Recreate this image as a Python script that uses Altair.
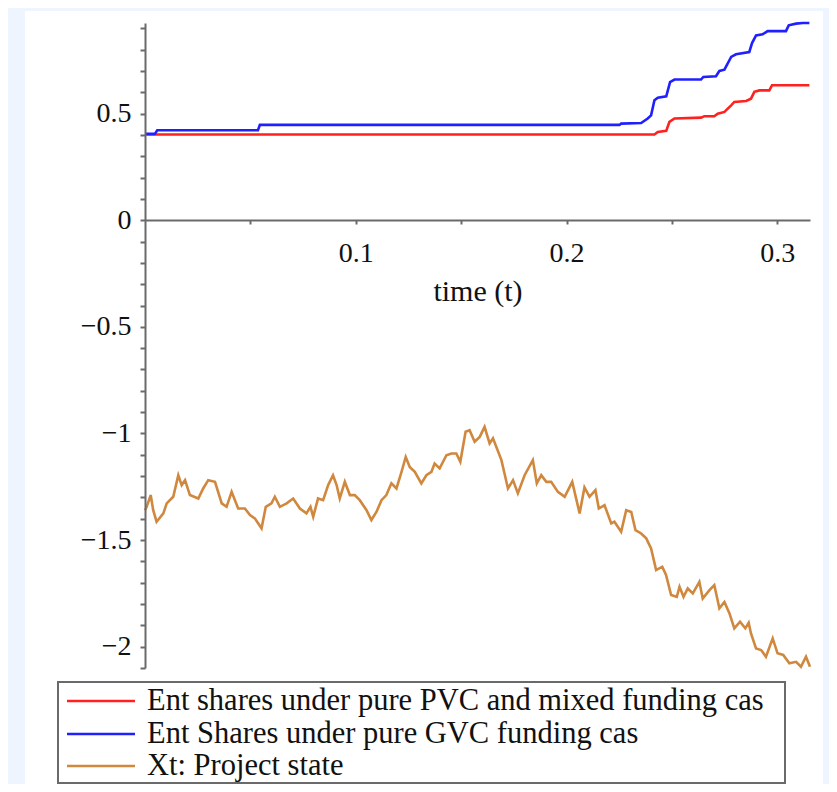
import altair as alt
import pandas as pd

# ---- data ----
xt_t = [0.0, 0.0008, 0.0027, 0.0039, 0.0055, 0.0087, 0.0103, 0.0134, 0.0158, 0.0174,
        0.0190, 0.0213, 0.0253, 0.0276, 0.0300, 0.0332, 0.0364, 0.0387, 0.0411, 0.0442,
        0.0474, 0.0498, 0.0521, 0.0553, 0.0573, 0.0600, 0.0616, 0.0640, 0.0672, 0.0703,
        0.0735, 0.0766, 0.0785, 0.0798, 0.0821, 0.0845, 0.0869, 0.0892, 0.0909, 0.0924,
        0.0948, 0.0972, 0.0995, 0.1019, 0.1051, 0.1074, 0.1098, 0.1122, 0.1145, 0.1169,
        0.1193, 0.1217, 0.1237, 0.1256, 0.1280, 0.1311, 0.1335, 0.1359, 0.1374, 0.1398,
        0.1430, 0.1454, 0.1477, 0.1496, 0.1521, 0.1540, 0.1564, 0.1588, 0.1611, 0.1635,
        0.1651, 0.1691, 0.1722, 0.1746, 0.1769, 0.1801, 0.1840, 0.1859, 0.1880, 0.1904,
        0.1927, 0.1959, 0.1991, 0.2027, 0.2062, 0.2085, 0.2109, 0.2137, 0.2153, 0.2180,
        0.2212, 0.2227, 0.2259, 0.2283, 0.2307, 0.2327, 0.2354, 0.2378, 0.2401, 0.2425,
        0.2454, 0.2472, 0.2496, 0.2523, 0.2536, 0.2555, 0.2575, 0.2599, 0.2630, 0.2646,
        0.2678, 0.2701, 0.2725, 0.2749, 0.2773, 0.2796, 0.2823, 0.2848, 0.2864, 0.2875,
        0.2899, 0.2923, 0.2946, 0.2978, 0.3001, 0.3028, 0.3057, 0.3089, 0.3112, 0.3136,
        0.3155]
xt_v = [-1.360, -1.344, -1.289, -1.360, -1.414, -1.375, -1.328, -1.297, -1.196, -1.242,
        -1.219, -1.289, -1.305, -1.258, -1.219, -1.227, -1.328, -1.344, -1.274, -1.352,
        -1.352, -1.383, -1.398, -1.445, -1.344, -1.328, -1.297, -1.344, -1.328, -1.305,
        -1.352, -1.375, -1.344, -1.391, -1.305, -1.313, -1.242, -1.196, -1.242, -1.305,
        -1.227, -1.289, -1.289, -1.313, -1.360, -1.406, -1.368, -1.313, -1.289, -1.234,
        -1.258, -1.180, -1.110, -1.157, -1.180, -1.234, -1.196, -1.180, -1.141, -1.164,
        -1.102, -1.094, -1.094, -1.133, -0.992, -0.985, -1.039, -1.016, -0.969, -1.047,
        -1.023, -1.125, -1.258, -1.219, -1.281, -1.196, -1.125, -1.234, -1.196, -1.227,
        -1.227, -1.274, -1.297, -1.227, -1.375, -1.253, -1.297, -1.266, -1.352, -1.336,
        -1.422, -1.414, -1.461, -1.360, -1.368, -1.453, -1.469, -1.492, -1.539, -1.641,
        -1.625, -1.664, -1.758, -1.766, -1.719, -1.766, -1.727, -1.750, -1.696, -1.774,
        -1.735, -1.711, -1.820, -1.790, -1.844, -1.914, -1.883, -1.914, -1.888, -1.938,
        -2.008, -2.016, -2.047, -1.961, -2.031, -2.039, -2.078, -2.071, -2.094, -2.047,
        -2.094]

red_t = [0.0, 0.2417, 0.2433, 0.2473, 0.2488, 0.2512, 0.2638, 0.2654, 0.2701, 0.2717,
         0.2749, 0.2781, 0.2796, 0.2852, 0.2875, 0.2891, 0.2915, 0.2962, 0.2975, 0.3152]
red_v = [0.402, 0.402, 0.414, 0.419, 0.461, 0.477, 0.481, 0.488, 0.488, 0.500,
         0.508, 0.539, 0.555, 0.559, 0.570, 0.602, 0.609, 0.609, 0.633, 0.633]

blue_t = [0.0, 0.0047, 0.0058, 0.0536, 0.0545, 0.2251, 0.2259, 0.2354, 0.2385, 0.2401,
          0.2417, 0.2433, 0.2473, 0.2491, 0.2512, 0.2638, 0.2649, 0.2709, 0.2725, 0.2749,
          0.2781, 0.2804, 0.2867, 0.2880, 0.2899, 0.2930, 0.2954, 0.3041, 0.3054, 0.3089,
          0.3120, 0.3152]
blue_v = [0.405, 0.405, 0.422, 0.422, 0.447, 0.447, 0.453, 0.456, 0.477, 0.492,
          0.563, 0.575, 0.581, 0.648, 0.660, 0.660, 0.672, 0.675, 0.700, 0.706,
          0.766, 0.778, 0.789, 0.831, 0.867, 0.872, 0.887, 0.887, 0.914, 0.922,
          0.925, 0.925]

legend_labels = ["Ent shares under pure PVC and mixed funding case",
                 "Ent Shares under pure GVC funding case",
                 "Xt: Project state"]
series_colors = ["#ff2020", "#2020ff", "#d0883e"]

x_ticks = [0.05, 0.1, 0.15, 0.2, 0.25, 0.3]
y_ticks = [round(-2.1 + 0.1 * i, 1) for i in range(31)]

FONT = "Liberation Serif"
AXIS_COLOR = "#6a6a6a"

x_scale = alt.Scale(domain=[0, 0.3155], nice=False, zero=False)
y_scale = alt.Scale(domain=[-2.1, 0.925], nice=False, zero=False)

x_axis = alt.Axis(
    values=x_ticks,
    labelExpr="abs(datum.value*10 - round(datum.value*10)) < 0.001 ? format(datum.value, '~g') : ''",
    offset=-448, grid=False, zindex=1,
    domainColor=AXIS_COLOR, domainWidth=2, tickColor=AXIS_COLOR, tickWidth=2, tickSize=4,
    labelFont=FONT, labelFontSize=28, labelColor="#111111", labelPadding=15,
    labelFlush=False, labelOverlap=False,
    title="time (t)", titleFont=FONT, titleFontSize=30, titleFontWeight="normal",
    titleColor="#111111", titleBaseline="alphabetic", titleY=80,
)
y_axis = alt.Axis(
    values=y_ticks,
    labelExpr="abs(datum.value*2 - round(datum.value*2)) < 0.001 ? format(datum.value, '~g') : ''",
    grid=False, zindex=1,
    domainColor=AXIS_COLOR, domainWidth=2, tickColor=AXIS_COLOR, tickWidth=2, tickSize=5,
    labelFont=FONT, labelFontSize=28, labelColor="#111111", labelPadding=9,
    labelFlush=False, labelOverlap=False, title="",
)

def series_layer(ts, vs, color):
    df = pd.DataFrame({"t": ts, "v": vs})
    return alt.Chart(df).mark_line(color=color, strokeWidth=2.6, clip=False).encode(
        x=alt.X("t:Q", scale=x_scale, axis=x_axis),
        y=alt.Y("v:Q", scale=y_scale, axis=y_axis),
        order="t:Q",
    )

one = pd.DataFrame({"a": [0]})

panel = alt.Chart(one).mark_rect(fill="white").encode(
    x=alt.value(-120), x2=alt.value(678), y=alt.value(-12), y2=alt.value(800)
)

red = series_layer(red_t, red_v, series_colors[0])
blue = series_layer(blue_t, blue_v, series_colors[1])
xt = series_layer(xt_t, xt_v, series_colors[2])

legend_box = alt.Chart(one).mark_rect(fillOpacity=0, stroke="#6a6a6a", strokeWidth=2).encode(
    x=alt.value(-87), x2=alt.value(640), y=alt.value(659), y2=alt.value(760)
)

legend_rows = [678, 711, 743]
legend_limits = [624, 500, 700]
legend_layers = []
for i in range(3):
    legend_layers.append(
        alt.Chart(one).mark_rule(color=series_colors[i], strokeWidth=2.5).encode(
            x=alt.value(-78), x2=alt.value(-10), y=alt.value(legend_rows[i])
        )
    )
    df_lab = pd.DataFrame({"label": [legend_labels[i]]})
    legend_layers.append(
        alt.Chart(df_lab).mark_text(
            font=FONT, fontSize=30.5, color="#111111", align="left", baseline="middle",
            limit=legend_limits[i], ellipsis="\u200b",
        ).encode(text="label:N", x=alt.value(2), y=alt.value(legend_rows[i]))
    )

chart = alt.layer(panel, red, blue, xt, legend_box, *legend_layers).properties(
    width=665, height=645,
    background="#eef5fe",
    padding={"left": 137, "top": 15, "right": 19, "bottom": 116},
    autosize=alt.AutoSizeParams(type="none"),
).configure_view(strokeWidth=0)

chart.save("out.html", embed_options={"renderer": "svg", "actions": False})
